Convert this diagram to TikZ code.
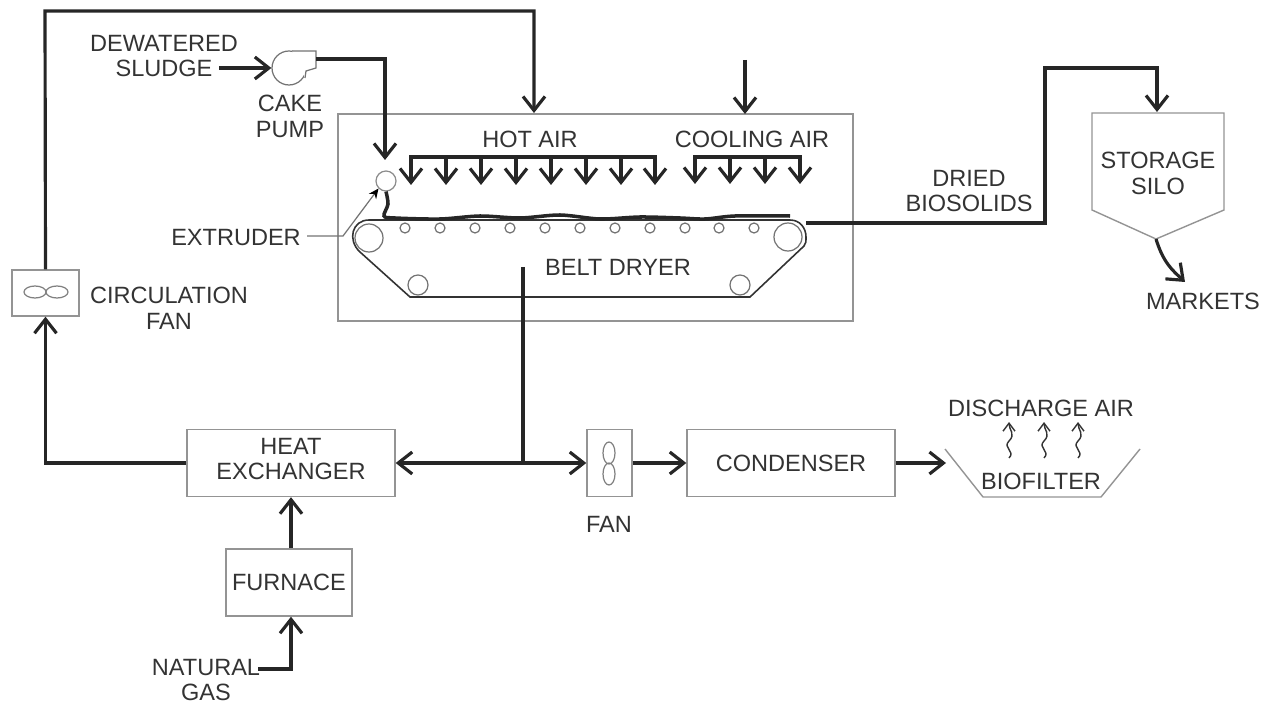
\documentclass[tikz,border=0pt]{standalone}
\usepackage{fontspec}
\setmainfont{Liberation Sans}
\usetikzlibrary{arrows.meta}
\definecolor{boxgray}{gray}{0.58}
\definecolor{labelgray}{gray}{0.2}

\begin{document}
\begin{tikzpicture}[x=0.02cm,y=-0.02cm]
  \tikzstyle{every node}=[font=\fontsize{13.4}{14.7}\selectfont,text=labelgray,align=center,inner sep=0pt]
  \tikzstyle{unit}=[draw=boxgray,line width=0.8pt,rectangle]
  \tikzstyle{outline}=[draw=boxgray,line width=0.8pt]
  \tikzstyle{roller}=[draw=black!55,line width=0.7pt,circle,fill=white]
  \tikzstyle{pipe}=[draw=black!85,line width=1.8pt]
  \tikzstyle{flow}=[pipe,-{Straight Barb[length=2.8mm,width=4.4mm]}]
  \useasboundingbox (0,0) rectangle (1270,705);

  \node[outline,minimum width=10.3cm,minimum height=4.14cm] (dryer) at (595.5,217.5) {};
  \node[unit,minimum width=1.34cm,minimum height=0.92cm] (cfan) at (45.5,293) {};
  \node[unit,minimum width=4.16cm,minimum height=1.34cm] (heat) at (291,463) {};
  \node[unit,minimum width=2.52cm,minimum height=1.34cm] (furn) at (289,582.5) {FURNACE};
  \node[unit,minimum width=0.9cm,minimum height=1.34cm] (fan) at (609.5,463) {};
  \node[unit,minimum width=4.16cm,minimum height=1.34cm] (cond) at (791,463) {CONDENSER};

  \foreach \name/\x/\y/\rx/\ry in {a/35/292/11/6, b/57/292/11/6, c/609/453/6/11, d/609/474/6/11}
    \draw[draw=black!50,line width=0.7pt] (\x,\y) ellipse [x radius=\rx,y radius=\ry];

  % silo and biofilter
  \coordinate (silo-top) at (1157,112);
  \coordinate (silo-tip) at (1156,239);
  \draw[outline] (1092,113) -- (1224,113) -- (1224,210) -- (silo-tip) -- (1092,210) -- cycle;
  \draw[outline] (945,449) -- (983,497) -- (1101,497) -- (1140,449);

  % pump
  \node[draw=black!55,line width=0.7pt,circle,minimum size=0.68cm] (pump) at (289,68) {};
  \coordinate (pump-out) at (316,59);
  \draw[draw=black!55,line width=0.7pt,fill=white] (292,51) -- (316,51) -- (316,68) -- (306,71) -- (305,78);

  % belt
  \draw[draw=black!80,line width=0.9pt] (369,220) -- (790,220) .. controls (800,220) and (806,228) .. (806,237) .. controls (806,241) and (806,244) .. (804,246) -- (750,297) -- (410,297) -- (360,252) .. controls (347,240) and (352,220) .. (369,220);
  \foreach \name/\x/\y/\r in {1/369/238/14, 2/788/237/14, 3/418/285/10, 4/740/285/10}
    \node[draw=black!55,line width=0.7pt,circle,minimum size=2*\r*0.02cm] (R-\name) at (\x,\y) {};
  \foreach \x in {405,440,475,510,545,580,615,650,685,719,754}
    \draw[draw=black!55,line width=0.7pt] (\x,228) circle [radius=5];
  \node[roller,draw=black!45,minimum size=0.4cm] (ext) at (386,181) {};
  \draw[pipe,line width=2pt] plot[smooth] coordinates {(ext.south) (388,204) (384,216) (395,218) (440,219) (480,216) (520,218) (560,215) (600,219) (640,217) (680,218) (705,219) (735,216) (790,216)};

  % hot air and cooling air
  \foreach \name/\x in {1/411,2/446,3/481,4/516,5/551,6/586,7/621,8/655} {
    \coordinate (H-\name) at (\x,157);
    \coordinate (HT-\name) at (\x,185);
    \draw[flow] (H-\name) -- (HT-\name);
  }
  \draw[pipe,line cap=rect] (H-1) -- (H-8);
  \foreach \name/\x in {1/695,2/730,3/765,4/800} {
    \coordinate (C-\name) at (\x,157);
    \coordinate (CT-\name) at (\x,184);
    \draw[flow] (C-\name) -- (CT-\name);
  }
  \draw[pipe,line cap=rect] (C-1) -- (C-4);

  % free ends
  \coordinate (hot-in) at (534,113);
  \coordinate (cool-top) at (745,60);
  \coordinate (cool-in) at (745,114);
  \coordinate (top-left) at (45,11);
  \coordinate (ext-in) at (385,160);
  \coordinate (sludge-in) at (219,68);
  \coordinate (dried-out) at (806,223);
  \coordinate (dried-up) at (1045,68);
  \coordinate (market) at (1185,282);
  \coordinate (belt-out) at (523,267);
  \coordinate (tee) at (523,463);
  \coordinate (bio-in) at (946,463);
  \coordinate (gas-in) at (258,669);
  \coordinate (ext-lead) at (307,236);
  \coordinate (ext-bend) at (343,236);

  \draw[flow] (cfan.north) -- (top-left) -| (hot-in);
  \draw[flow] (cool-top) -- (cool-in);
  \draw[flow] (sludge-in) -- (pump.west);
  \draw[flow] (pump-out) -| (ext-in);
  \draw[flow] (dried-out) -| (dried-up) -| (silo-top);
  \draw[flow] (silo-tip) .. controls (1163,262) and (1172,270) .. (market);
  \draw[pipe] (belt-out) -- (tee);
  \draw[pipe,{Straight Barb[length=2.8mm,width=4.4mm]}-{Straight Barb[length=2.8mm,width=4.4mm]}] (heat.east) -- (fan.west);
  \draw[flow] (fan.east) -- (cond.west);
  \draw[flow] (cond.east) -- (bio-in);
  \draw[flow] (heat.west) -| (cfan.south);
  \draw[flow] (furn.north -| heat.south) -- (heat.south);
  \draw[flow] (gas-in) -| (furn.south -| heat.south);
  \draw[draw=black!55,line width=0.7pt,-{Stealth[length=2mm,width=1.8mm,color=black]}] (ext-lead) -- (ext-bend) -- (ext.south west);

  % discharge air
  \foreach \name/\x in {1/1009,2/1044,3/1078} {
    \coordinate (W-\name) at (\x,458);
    \coordinate (WM-\name) at (\x,441);
    \coordinate (WT-\name) at (\x,422);
    \draw[draw=black!80,line width=0.8pt,-{Straight Barb[length=1.6mm,width=2.4mm]}] (W-\name) .. controls +(7,-7) and +(-7,7) .. (WM-\name) .. controls +(7,-7) and +(0,8) .. (WT-\name);
  }

  \foreach \name/\x/\y/\txt in {dewatered/164/56/DEWATERED\\SLUDGE, pumplabel/290/116/CAKE\\PUMP, hotair/530/139/HOT AIR, coolair/752/139/COOLING AIR, dried/969/191/DRIED\\BIOSOLIDS, extruder/236/238/EXTRUDER, beltdryer/618/267/BELT DRYER, circ/169/308/CIRCULATION\\FAN, storage/1158/173/STORAGE\\SILO, markets/1203/301/MARKETS, discharge/1041/408/DISCHARGE AIR, biofilter/1041/481/BIOFILTER, fanlabel/609/524/FAN, heatlabel/291/459/HEAT\\EXCHANGER, gas/206/680/NATURAL\\GAS}
    \node (T-\name) at (\x,\y) {\txt};
\end{tikzpicture}
\end{document}
